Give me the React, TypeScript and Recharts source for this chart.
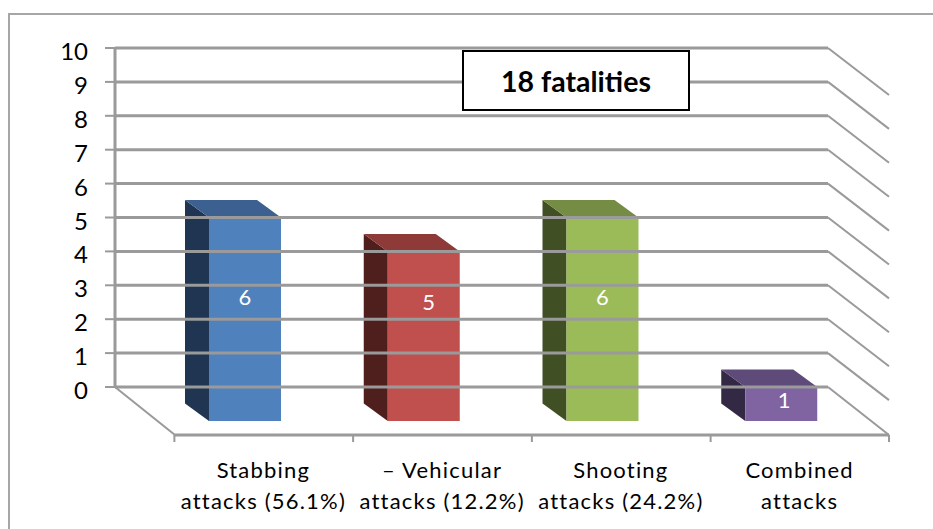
import React from 'react';
import { BarChart, Bar, XAxis, YAxis } from 'recharts';

const categories = ['Stabbing|attacks (56.1%)', '– Vehicular|attacks (12.2%)', 'Shooting|attacks (24.2%)', 'Combined|attacks'];
const fatalities = [6, 5, 6, 1];
const yTicks = [0, 1, 2, 3, 4, 5, 6, 7, 8, 9, 10];

const frontColors = ['#4f81bd', '#c0504d', '#9bbb59', '#8064a2'];
const topColors = ['#3c6191', '#8e3a38', '#748c43', '#5f4b79'];
const sideColors = ['#1f3552', '#4f1f1e', '#414f25', '#342945'];
// where each value label sits on its bar, the original is not centred
const labelShift = [[0, -22], [5, -34], [0, -22], [3, -4]];

const data = categories.map((name, i) => ({ name, value: fatalities[i] }));

const GRID = '#9a9a9a';
const FONT = 'Lato, sans-serif';

function YTick({ y, payload }: any) {
    const wallX = 828;
    return (
        <g>
            <line x1={105} x2={115} y1={y} y2={y} stroke={GRID} strokeWidth={2} />
            <line x1={115} x2={wallX} y1={y} y2={y} stroke={GRID} strokeWidth={3} />
            {payload.value === 0 ? (
                <g>
                    <line x1={115} x2={175} y1={y} y2={y + 48} stroke={GRID} strokeWidth={2} />
                    <line x1={175} x2={889} y1={y + 48} y2={y + 48} stroke={GRID} strokeWidth={3} />
                    <line x1={wallX} x2={889} y1={y} y2={y + 48} stroke={GRID} strokeWidth={2} />
                </g>
            ) : (
                <line x1={wallX} x2={889} y1={y} y2={y + 47} stroke={GRID} strokeWidth={2} />
            )}
            {payload.value === 10 && <line x1={115} x2={115} y1={y} y2={387} stroke={GRID} strokeWidth={3} />}
            <text x={88} y={y + 12} textAnchor="end" fontFamily={FONT} fontSize={24} fill="#000">
                {payload.value}
            </text>
        </g>
    );
}

function XTick({ x, payload, index }: any) {
    const [first, second] = payload.value.split('|');
    const left = x - 30;
    const floorY = 435;
    return (
        <g>
            <line x1={left} x2={left} y1={floorY} y2={floorY + 7} stroke={GRID} strokeWidth={2} />
            {index === categories.length - 1 && (
                <line x1={889} x2={889} y1={floorY} y2={floorY + 7} stroke={GRID} strokeWidth={2} />
            )}
            <text textAnchor="middle" fontFamily={FONT} fontSize={22} letterSpacing={1.2} fill="#000">
                <tspan x={x + 59} y={478}>{first}</tspan>
                <tspan x={x + 59} y={509}>{second}</tspan>
            </text>
        </g>
    );
}

function Bar3D({ x, y, width, height, index, value }: any) {
    const backX = x + 17;
    const frontX = x + 41;
    const backY = y + 16.5;
    const frontY = y + 34;
    const [dx, dy] = labelShift[index];
    const num = Array.isArray(value) ? value[1] : value;
    return (
        <g>
            <polygon
                points={`${backX},${backY} ${frontX},${frontY} ${frontX},${frontY + height} ${backX},${backY + height}`}
                fill={sideColors[index]}
            />
            <polygon
                points={`${backX},${backY} ${backX + width},${backY} ${frontX + width},${frontY} ${frontX},${frontY}`}
                fill={topColors[index]}
            />
            <rect x={frontX} y={frontY} width={width} height={height} fill={frontColors[index]} />
            <text
                x={frontX + width / 2 + dx}
                y={frontY + height / 2 + dy + 8}
                textAnchor="middle"
                fontFamily={FONT}
                fontSize={22}
                fill="#fff"
            >
                {num}
            </text>
        </g>
    );
}

export default function App() {
    return (
        <div style={{ position: 'absolute', left: 0, top: 0, width: 933, height: 529, background: '#fff', overflow: 'hidden' }}>
            <div
                style={{
                    position: 'absolute',
                    left: 8,
                    top: 13,
                    width: 940,
                    height: 540,
                    border: '2px solid #a6a6a6',
                }}
            />
            <div style={{ position: 'absolute', left: 0, top: 0 }}>
                <BarChart
                    width={933}
                    height={529}
                    data={data}
                    barSize={72}
                    margin={{ top: 48, right: 103, left: 55, bottom: 42 }}
                >
                    <XAxis dataKey="name" height={100} axisLine={false} tickLine={false} interval={0} tick={<XTick />} />
                    <YAxis
                        width={60}
                        domain={[0, 10]}
                        ticks={yTicks}
                        interval={0}
                        axisLine={false}
                        tickLine={false}
                        tick={<YTick />}
                    />
                    <Bar dataKey="value" shape={<Bar3D />} isAnimationActive={false} />
                </BarChart>
            </div>
            <div
                style={{
                    position: 'absolute',
                    left: 462,
                    top: 50,
                    width: 224,
                    height: 57,
                    border: '2px solid #000',
                    background: '#fff',
                    display: 'flex',
                    alignItems: 'center',
                    justifyContent: 'center',
                    fontFamily: FONT,
                    fontWeight: 700,
                    fontSize: 28.5,
                    color: '#000',
                }}
            >
                18 fatalities
            </div>
        </div>
    );
}
